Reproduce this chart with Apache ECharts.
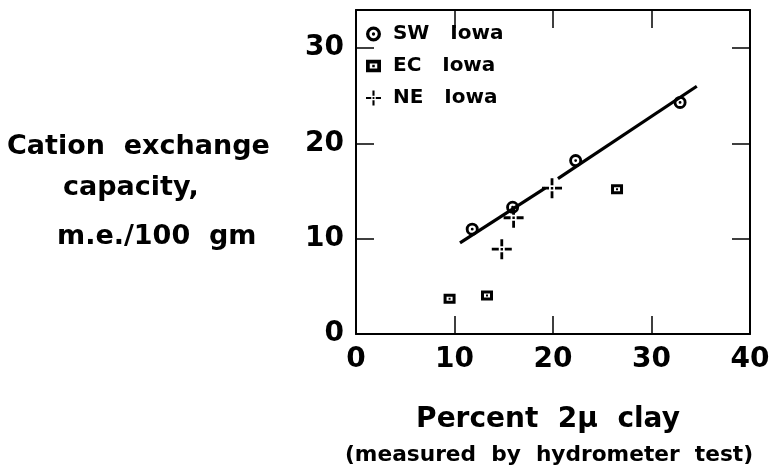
<!DOCTYPE html>
<html><head><meta charset="utf-8">
<script src="https://cdn.jsdelivr.net/npm/echarts@6/dist/echarts.min.js"></script>
<style>html,body{margin:0;padding:0;background:#fff}#c{width:774px;height:474px}</style>
</head><body><div id="c"></div>
<script>
// ---- data ----
const swX = [11.8, 15.9, 22.3, 32.9];
const swY = [11.0, 13.3, 18.2, 24.3];
const ecX = [9.5, 13.3, 26.5];
const ecY = [3.7, 4.05, 15.2];
const neX = [14.8, 16.0, 19.9];
const neY = [8.9, 12.2, 15.3];
const fitAX = [10.56, 19.2];
const fitAY = [9.56, 15.3];
const fitBX = [20.5, 34.6];
const fitBY = [16.3, 26.0];
const seriesNames = ['SW Iowa', 'EC Iowa', 'NE Iowa'];
const xTicks = [0, 10, 20, 30, 40];
const yTicks = [0, 10, 20, 30];

const zip = (a, b) => a.map((v, i) => [v, b[i]]);
const FONT = '"DejaVu Sans", sans-serif';

const ringPath = 'path://M0,-10A10,10 0 1,1 0,10A10,10 0 1,1 0,-10Z M0,-5.6A5.6,5.6 0 1,0 0,5.6A5.6,5.6 0 1,0 0,-5.6Z M0,-2.2A2.2,2.2 0 1,1 0,2.2A2.2,2.2 0 1,1 0,-2.2Z';
const squarePath = 'path://M-6,-5H6V5H-6Z M-3,-2V2H3V-2Z M-1,-1H1V1H-1Z';
const crossPath = 'path://M-1.4,-10H1.4V-3H-1.4Z M-1.4,3H1.4V10H-1.4Z M-10,-1.4H-3V1.4H-10Z M3,-1.4H10V1.4H3Z M-1.2,-1.2H1.2V1.2H-1.2Z';

const chart = echarts.init(document.getElementById('c'), null, {renderer: 'canvas'});
function axis(extra) {
  return Object.assign({
    type: 'value', min: 0, interval: 10,
    axisLine: {show: true, onZero: false, lineStyle: {color: '#000', width: 2}},
    axisTick: {show: true, inside: true, length: 18, lineStyle: {color: '#000', width: 1.5}},
    splitLine: {show: false}
  }, extra);
}
const labelStyle = {color: '#000', fontFamily: FONT, fontWeight: 'bold', fontSize: 28};
chart.setOption({
  animation: false,
  backgroundColor: '#fff',
  grid: {left: 356, right: 24, top: 10, bottom: 140, containLabel: false},
  xAxis: [
    axis({position: 'bottom', max: 40,
      axisLabel: Object.assign({show: true, margin: 12, showMaxLabel: true,
        formatter: v => xTicks.includes(v) ? String(v) : ''}, labelStyle)}),
    axis({position: 'top', max: 40, axisLabel: {show: false}})
  ],
  yAxis: [
    axis({position: 'left', max: 34,
      axisLabel: Object.assign({show: true, margin: 12, showMaxLabel: false,
        formatter: v => yTicks.includes(v) ? String(v) : ''}, labelStyle)}),
    axis({position: 'right', max: 34, axisLabel: {show: false}})
  ],
  legend: {
    data: seriesNames, orient: 'vertical', left: 361, top: 19, itemGap: 12,
    itemWidth: 15, itemHeight: 15,
    formatter: n => ' ' + n.replace(' ', '   '),
    textStyle: {color: '#000', fontFamily: FONT, fontWeight: 'bold', fontSize: 20}
  },
  series: [
    {name: 'fitA', type: 'line', xAxisIndex: 1, yAxisIndex: 1, data: zip(fitAX, fitAY), symbol: 'none',
      lineStyle: {color: '#000', width: 3.2}, z: 1},
    {name: 'fitB', type: 'line', xAxisIndex: 1, yAxisIndex: 1, data: zip(fitBX, fitBY), symbol: 'none',
      lineStyle: {color: '#000', width: 3.2}, z: 1},
    {name: seriesNames[0], type: 'scatter', data: zip(swX, swY), symbol: ringPath, symbolSize: 13,
      itemStyle: {color: '#000', opacity: 1}, z: 3},
    {name: seriesNames[1], type: 'scatter', data: zip(ecX, ecY), symbol: squarePath, symbolSize: [12, 10],
      itemStyle: {color: '#000', opacity: 1}, z: 3},
    {name: seriesNames[2], type: 'scatter', data: zip(neX, neY), symbol: crossPath, symbolSize: 20,
      itemStyle: {color: '#000', opacity: 1}, z: 3}
  ],
  graphic: [
    {type: 'text', x: 7, y: 147, style: {text: 'Cation  exchange', fill: '#000', font: 'bold 27px ' + FONT, verticalAlign: 'middle'}},
    {type: 'text', x: 63, y: 188, style: {text: 'capacity,', fill: '#000', font: 'bold 27px ' + FONT, verticalAlign: 'middle'}},
    {type: 'text', x: 57, y: 237, style: {text: 'm.e./100  gm', fill: '#000', font: 'bold 27px ' + FONT, verticalAlign: 'middle'}},
    {type: 'text', x: 548, y: 420, style: {text: 'Percent  2μ  clay', fill: '#000', font: 'bold 28px ' + FONT, align: 'center', verticalAlign: 'middle'}},
    {type: 'text', x: 549, y: 455, style: {text: '(measured  by  hydrometer  test)', fill: '#000', font: 'bold 21.7px ' + FONT, align: 'center', verticalAlign: 'middle'}}
  ]
});
</script></body></html>
